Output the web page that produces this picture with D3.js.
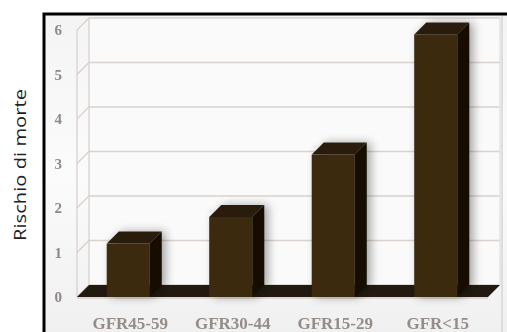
<!DOCTYPE html>
<html>
<head>
<meta charset="utf-8">
<script src="https://cdn.jsdelivr.net/npm/d3@7"></script>
<style>
  html, body { margin: 0; padding: 0; background: #fff; }
  svg { display: block; }
</style>
</head>
<body>
<div id="chart"></div>
<script>
// data
const categories = ["GFR45-59", "GFR30-44", "GFR15-29", "GFR<15"];
const risk = [1.2, 1.8, 3.2, 5.9];
const yTicks = [0, 1, 2, 3, 4, 5, 6];

const width = 507;
const height = 332;

// depth of the fake 3D
const dx = 12, dy = -12;

const svg = d3.select("#chart")
    .append("svg")
    .attr("width", width)
    .attr("height", height);

const defs = svg.append("defs");

const bg = defs.append("linearGradient")
    .attr("id", "bg")
    .attr("x1", 0).attr("y1", 0).attr("x2", 0).attr("y2", 1);
bg.append("stop").attr("offset", "0%").attr("stop-color", "#f4f4f4");
bg.append("stop").attr("offset", "50%").attr("stop-color", "#fbfbfb");
bg.append("stop").attr("offset", "100%").attr("stop-color", "#f0f0f0");

const shadow = defs.append("filter")
    .attr("id", "shadow")
    .attr("x", "-40%").attr("y", "-20%").attr("width", "180%").attr("height", "140%");
shadow.append("feGaussianBlur").attr("in", "SourceAlpha").attr("stdDeviation", 5);
shadow.append("feOffset").attr("dx", 4).attr("dy", 0).attr("result", "b");
shadow.append("feComponentTransfer").append("feFuncA").attr("type", "linear").attr("slope", 0.35);
const merge = shadow.append("feMerge");
merge.append("feMergeNode");
merge.append("feMergeNode").attr("in", "SourceGraphic");

const soft = defs.append("filter").attr("id", "soft");
soft.append("feGaussianBlur").attr("stdDeviation", 0.45);

// frame background
svg.append("rect")
    .attr("x", 44).attr("y", 14)
    .attr("width", width - 44).attr("height", height - 14)
    .attr("fill", "url(#bg)");

svg.append("line")
    .attr("x1", 502).attr("x2", 502).attr("y1", 16).attr("y2", height)
    .attr("stroke", "#d6d6d6").attr("stroke-width", 1.5);

// scales
const x = d3.scaleBand()
    .domain(categories)
    .range([77, 487])
    .paddingInner(0.58)
    .paddingOuter(0.29);

const y = d3.scaleLinear()
    .domain([0, 6])
    .range([297, 30]);

const wallLeft = 77, wallRight = 488;

// back wall
svg.append("rect")
    .attr("x", wallLeft + dx).attr("y", y(6) + dy)
    .attr("width", wallRight - wallLeft).attr("height", y(0) - y(6))
    .attr("fill", "#fafafa");

// grid on back wall + left wall
const grid = svg.append("g")
    .attr("stroke", "#d9d2cd")
    .attr("stroke-width", 1.3)
    .attr("fill", "none");

grid.selectAll("path")
    .data(yTicks)
    .join("path")
    .attr("d", d => `M${wallLeft},${y(d)}L${wallLeft + dx},${y(d) + dy}L${wallRight + dx},${y(d) + dy}`);

grid.append("line")
    .attr("x1", wallLeft).attr("x2", wallLeft)
    .attr("y1", y(6)).attr("y2", y(0));
grid.append("line")
    .attr("x1", wallLeft + dx).attr("x2", wallLeft + dx)
    .attr("y1", y(6) + dy).attr("y2", y(0) + dy);
grid.append("line")
    .attr("x1", wallRight + dx).attr("x2", wallRight + dx)
    .attr("y1", y(6) + dy).attr("y2", y(0) + dy)
    .attr("stroke", "#e4e0dc");

// floor
svg.append("path")
    .attr("d", `M${wallLeft},${y(0)}L${wallLeft + dx},${y(0) + dy}L${wallRight + dx},${y(0) + dy}L${wallRight},${y(0)}Z`)
    .attr("fill", "#221a10");
svg.append("line")
    .attr("x1", wallLeft).attr("x2", wallRight)
    .attr("y1", y(0) + 1).attr("y2", y(0) + 1)
    .attr("stroke", "#c9bcb2").attr("stroke-width", 1.2);

// bars
const bars = svg.append("g")
    .selectAll("g")
    .data(categories.map((c, i) => ({ name: c, value: risk[i] })))
    .join("g")
    .attr("filter", "url(#shadow)");

bars.append("path") // top
    .attr("d", d => {
        const x0 = x(d.name), x1 = x0 + x.bandwidth(), t = y(d.value);
        return `M${x0},${t}L${x0 + dx},${t + dy}L${x1 + dx},${t + dy}L${x1},${t}Z`;
    })
    .attr("fill", "#2a1f0f");

bars.append("path") // side
    .attr("d", d => {
        const x1 = x(d.name) + x.bandwidth(), t = y(d.value), b = y(0);
        return `M${x1},${t}L${x1 + dx},${t + dy}L${x1 + dx},${b + dy}L${x1},${b}Z`;
    })
    .attr("fill", "#150f06");

bars.append("rect") // front
    .attr("x", d => x(d.name))
    .attr("y", d => y(d.value))
    .attr("width", x.bandwidth())
    .attr("height", d => y(0) - y(d.value))
    .attr("fill", "#3a2a0b");

// y tick labels
svg.append("g")
    .attr("filter", "url(#soft)")
    .style("font", "bold 15px 'Liberation Serif', serif")
    .attr("fill", "#8f8884")
    .selectAll("text")
    .data(yTicks)
    .join("text")
    .attr("x", 62)
    .attr("y", d => y(d))
    .attr("dy", "0.35em")
    .attr("text-anchor", "end")
    .text(d => d);

// category labels
svg.append("g")
    .attr("filter", "url(#soft)")
    .style("font", "bold 17px 'Liberation Serif', serif")
    .attr("fill", "#968d88")
    .selectAll("text")
    .data(categories)
    .join("text")
    .attr("x", d => x(d) + x.bandwidth() / 2 + 2)
    .attr("y", 323)
    .attr("dy", "0.35em")
    .attr("text-anchor", "middle")
    .text(d => d);

// frame (black top + left edges)
svg.append("path")
    .attr("d", `M44,${height}L44,14L${width},14`)
    .attr("fill", "none")
    .attr("stroke", "#000")
    .attr("stroke-width", 3);

// axis title
svg.append("text")
    .attr("transform", "translate(20,165) rotate(-90)")
    .attr("dy", "0.35em")
    .attr("text-anchor", "middle")
    .attr("textLength", 152)
    .attr("lengthAdjust", "spacingAndGlyphs")
    .style("font", "17px 'Open Sans', sans-serif")
    .attr("fill", "#222")
    .text("Rischio di morte");
</script>
</body>
</html>
